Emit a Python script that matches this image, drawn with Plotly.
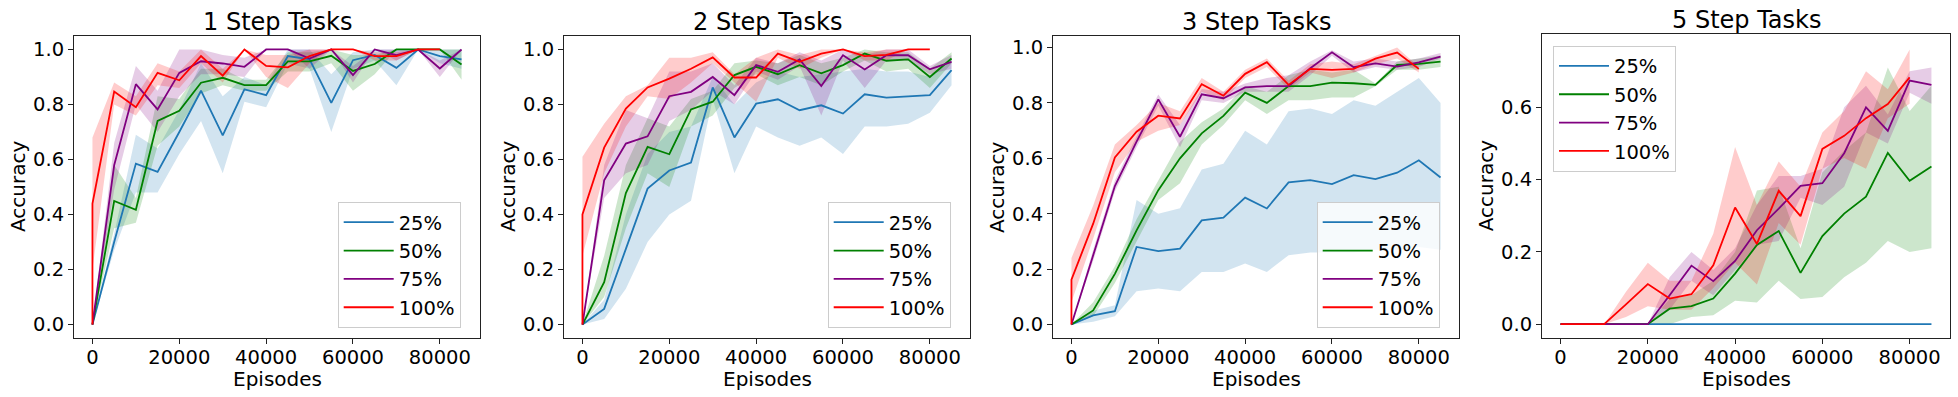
import plotly.graph_objects as go

# ---------------- data ----------------
X = [0, 5000, 10000, 15000, 20000, 25000, 30000, 35000, 40000, 45000,
     50000, 55000, 60000, 65000, 70000, 75000, 80000, 85000]
X_RED = [0, 0, 5000, 10000, 15000, 20000, 25000, 30000, 35000, 40000,
         45000, 50000, 55000, 60000, 65000, 70000, 75000, 80000]

TITLES = ["1 Step Tasks", "2 Step Tasks", "3 Step Tasks", "5 Step Tasks"]
SERIES = ["25%", "50%", "75%", "100%"]
COLORS = ["#1f77b4", "#008000", "#800080", "#ff0000"]
YTICKS_FULL = [0.0, 0.2, 0.4, 0.6, 0.8, 1.0]
YTICKS_5 = [0.0, 0.2, 0.4, 0.6]
XTICKS = [0, 20000, 40000, 60000, 80000]
XLABEL = "Episodes"
YLABEL = "Accuracy"

# ---- 1 step ----
p1_25 = [0, 0.30, 0.585, 0.555, 0.70, 0.85, 0.688, 0.855, 0.834, 0.976, 0.964, 0.806, 0.961, 0.98, 0.933, 1.0, 0.976, 0.964]
p1_25_lo = [0, 0.27, 0.48, 0.48, 0.62, 0.74, 0.55, 0.81, 0.79, 0.95, 0.93, 0.70, 0.93, 0.96, 0.87, 1.0, 0.95, 0.93]
p1_25_hi = [0, 0.33, 0.69, 0.64, 0.78, 0.95, 0.83, 0.90, 0.87, 1.0, 1.0, 0.91, 0.99, 1.0, 1.0, 1.0, 1.0, 1.0]
p1_50 = [0, 0.449, 0.417, 0.74, 0.777, 0.879, 0.897, 0.870, 0.870, 0.957, 0.957, 0.977, 0.922, 0.947, 1.0, 1.0, 1.0, 0.945]
p1_50_lo = [0, 0.35, 0.37, 0.65, 0.72, 0.84, 0.87, 0.85, 0.85, 0.92, 0.92, 0.95, 0.85, 0.91, 1.0, 1.0, 1.0, 0.89]
p1_50_hi = [0, 0.58, 0.46, 0.83, 0.82, 0.93, 0.93, 0.89, 0.89, 0.99, 0.99, 1.0, 0.98, 0.98, 1.0, 1.0, 1.0, 1.0]
p1_75 = [0, 0.579, 0.874, 0.782, 0.915, 0.957, 0.949, 0.937, 1.0, 1.0, 0.967, 1.0, 0.907, 1.0, 0.979, 1.0, 0.931, 1.0]
p1_75_lo = [0, 0.49, 0.80, 0.70, 0.83, 0.91, 0.91, 0.90, 1.0, 1.0, 0.93, 1.0, 0.88, 1.0, 0.96, 1.0, 0.90, 1.0]
p1_75_hi = [0, 0.66, 0.94, 0.85, 1.0, 1.0, 0.98, 0.97, 1.0, 1.0, 1.0, 1.0, 0.94, 1.0, 1.0, 1.0, 0.96, 1.0]
p1_100 = [0, 0.44, 0.847, 0.79, 0.915, 0.888, 0.976, 0.905, 1.0, 0.94, 0.935, 0.976, 1.0, 1.0, 0.976, 0.976, 1.0, 1.0]
p1_100_lo = [0, 0.20, 0.80, 0.76, 0.87, 0.86, 0.95, 0.88, 1.0, 0.90, 0.86, 0.95, 1.0, 1.0, 0.96, 0.96, 1.0, 1.0]
p1_100_hi = [0, 0.68, 0.88, 0.83, 0.95, 0.92, 1.0, 0.93, 1.0, 0.98, 0.98, 1.0, 1.0, 1.0, 0.99, 0.99, 1.0, 1.0]

# ---- 2 step ----
p2_25 = [0, 0.057, 0.275, 0.494, 0.56, 0.589, 0.862, 0.68, 0.803, 0.819, 0.779, 0.797, 0.767, 0.837, 0.825, 0.83, 0.834, 0.925]
p2_25_lo = [0, 0.02, 0.13, 0.30, 0.40, 0.45, 0.82, 0.55, 0.72, 0.68, 0.65, 0.68, 0.62, 0.72, 0.72, 0.73, 0.77, 0.87]
p2_25_hi = [0, 0.09, 0.40, 0.62, 0.70, 0.72, 0.90, 0.80, 0.88, 0.92, 0.90, 0.91, 0.92, 0.93, 0.92, 0.92, 0.90, 0.97]
p2_50 = [0, 0.154, 0.478, 0.646, 0.619, 0.782, 0.81, 0.907, 0.937, 0.91, 0.943, 0.913, 0.943, 0.985, 0.959, 0.964, 0.90, 0.967]
p2_50_lo = [0, 0.10, 0.35, 0.55, 0.50, 0.72, 0.76, 0.86, 0.91, 0.87, 0.90, 0.87, 0.92, 0.96, 0.92, 0.93, 0.86, 0.95]
p2_50_hi = [0, 0.25, 0.58, 0.75, 0.72, 0.82, 0.85, 0.95, 0.96, 0.95, 0.98, 0.95, 0.97, 1.0, 0.99, 0.99, 0.93, 0.99]
p2_75 = [0, 0.524, 0.658, 0.684, 0.83, 0.846, 0.90, 0.834, 0.943, 0.919, 0.964, 0.867, 0.979, 0.927, 0.979, 0.979, 0.928, 0.955]
p2_75_lo = [0, 0.46, 0.55, 0.58, 0.74, 0.78, 0.85, 0.80, 0.92, 0.89, 0.94, 0.76, 0.96, 0.86, 0.96, 0.96, 0.91, 0.93]
p2_75_hi = [0, 0.58, 0.78, 0.75, 0.92, 0.92, 0.95, 0.87, 0.97, 0.95, 0.99, 0.96, 1.0, 0.98, 1.0, 1.0, 0.94, 0.98]
p2_100 = [0, 0.40, 0.643, 0.785, 0.862, 0.894, 0.93, 0.971, 0.898, 0.898, 0.985, 0.955, 0.985, 1.0, 0.976, 0.98, 1.0, 1.0]
p2_100_lo = [0, 0.25, 0.55, 0.72, 0.83, 0.82, 0.88, 0.95, 0.88, 0.81, 0.97, 0.93, 0.97, 1.0, 0.96, 0.96, 1.0, 1.0]
p2_100_hi = [0, 0.61, 0.73, 0.83, 0.87, 0.97, 0.97, 0.99, 0.91, 0.97, 1.0, 0.98, 1.0, 1.0, 0.99, 1.0, 1.0, 1.0]

# ---- 3 step ----
p3_25 = [0, 0.033, 0.048, 0.28, 0.265, 0.274, 0.376, 0.386, 0.458, 0.419, 0.513, 0.521, 0.507, 0.539, 0.525, 0.548, 0.593, 0.531]
p3_25_lo = [0, 0.01, 0.03, 0.12, 0.13, 0.12, 0.19, 0.19, 0.22, 0.19, 0.25, 0.26, 0.26, 0.26, 0.27, 0.27, 0.28, 0.27]
p3_25_hi = [0, 0.05, 0.07, 0.45, 0.40, 0.42, 0.56, 0.58, 0.70, 0.65, 0.77, 0.78, 0.76, 0.81, 0.79, 0.84, 0.89, 0.80]
p3_50 = [0, 0.051, 0.183, 0.34, 0.485, 0.60, 0.69, 0.753, 0.837, 0.80, 0.861, 0.861, 0.873, 0.871, 0.865, 0.937, 0.941, 0.949]
p3_50_lo = [0, 0.03, 0.15, 0.30, 0.45, 0.51, 0.65, 0.72, 0.81, 0.76, 0.81, 0.81, 0.82, 0.82, 0.86, 0.92, 0.92, 0.93]
p3_50_hi = [0, 0.08, 0.21, 0.38, 0.52, 0.66, 0.73, 0.78, 0.86, 0.84, 0.90, 0.92, 0.91, 0.92, 0.87, 0.95, 0.96, 0.97]
p3_75 = [0, 0.25, 0.50, 0.66, 0.813, 0.678, 0.831, 0.817, 0.856, 0.861, 0.861, 0.925, 0.983, 0.929, 0.943, 0.931, 0.946, 0.967]
p3_75_lo = [0, 0.23, 0.48, 0.64, 0.79, 0.64, 0.81, 0.80, 0.84, 0.84, 0.84, 0.90, 0.97, 0.91, 0.93, 0.92, 0.93, 0.96]
p3_75_hi = [0, 0.27, 0.52, 0.68, 0.83, 0.72, 0.85, 0.84, 0.87, 0.89, 0.90, 0.95, 0.99, 0.95, 0.96, 0.95, 0.96, 0.98]
p3_100 = [0, 0.162, 0.364, 0.603, 0.696, 0.754, 0.744, 0.868, 0.826, 0.905, 0.947, 0.865, 0.923, 0.919, 0.923, 0.96, 0.982, 0.923]
p3_100_lo = [0, 0.08, 0.31, 0.55, 0.66, 0.70, 0.72, 0.84, 0.81, 0.89, 0.93, 0.85, 0.91, 0.89, 0.91, 0.94, 0.96, 0.91]
p3_100_hi = [0, 0.24, 0.43, 0.65, 0.72, 0.80, 0.77, 0.89, 0.84, 0.92, 0.96, 0.88, 0.94, 0.95, 0.94, 0.97, 1.0, 0.93]

# ---- 5 step ----
p4_25 = [0, 0, 0, 0, 0, 0, 0, 0, 0, 0, 0, 0, 0, 0, 0, 0, 0, 0]
p4_25_lo = [0, 0, 0, 0, 0, 0, 0, 0, 0, 0, 0, 0, 0, 0, 0, 0, 0, 0]
p4_25_hi = [0, 0, 0, 0, 0, 0, 0, 0, 0, 0, 0, 0, 0, 0, 0, 0, 0, 0]
p4_50 = [0, 0, 0, 0, 0, 0.043, 0.05, 0.071, 0.14, 0.219, 0.258, 0.142, 0.244, 0.306, 0.353, 0.474, 0.397, 0.436]
p4_50_lo = [0, 0, 0, 0, 0, 0.0, 0.02, 0.025, 0.065, 0.06, 0.12, 0.07, 0.075, 0.13, 0.17, 0.23, 0.20, 0.21]
p4_50_hi = [0, 0, 0, 0, 0, 0.07, 0.08, 0.12, 0.20, 0.37, 0.38, 0.21, 0.42, 0.48, 0.53, 0.71, 0.59, 0.66]
p4_75 = [0, 0, 0, 0, 0, 0.08, 0.162, 0.119, 0.175, 0.26, 0.32, 0.383, 0.39, 0.473, 0.60, 0.535, 0.674, 0.662]
p4_75_lo = [0, 0, 0, 0, 0, 0.04, 0.12, 0.08, 0.15, 0.22, 0.23, 0.35, 0.33, 0.38, 0.53, 0.50, 0.64, 0.61]
p4_75_hi = [0, 0, 0, 0, 0, 0.13, 0.20, 0.15, 0.21, 0.33, 0.41, 0.41, 0.43, 0.60, 0.66, 0.58, 0.70, 0.71]
p4_100 = [0, 0, 0, 0, 0.055, 0.111, 0.071, 0.083, 0.163, 0.323, 0.222, 0.369, 0.299, 0.485, 0.521, 0.57, 0.609, 0.683]
p4_100_lo = [0, 0, 0, 0, 0.02, 0.05, 0.04, 0.04, 0.10, 0.17, 0.11, 0.28, 0.22, 0.43, 0.46, 0.43, 0.57, 0.61]
p4_100_hi = [0, 0, 0, 0, 0.09, 0.17, 0.12, 0.12, 0.25, 0.49, 0.33, 0.45, 0.38, 0.53, 0.59, 0.70, 0.65, 0.76]

PANELS = [
    [(p1_25, p1_25_lo, p1_25_hi), (p1_50, p1_50_lo, p1_50_hi), (p1_75, p1_75_lo, p1_75_hi), (p1_100, p1_100_lo, p1_100_hi)],
    [(p2_25, p2_25_lo, p2_25_hi), (p2_50, p2_50_lo, p2_50_hi), (p2_75, p2_75_lo, p2_75_hi), (p2_100, p2_100_lo, p2_100_hi)],
    [(p3_25, p3_25_lo, p3_25_hi), (p3_50, p3_50_lo, p3_50_hi), (p3_75, p3_75_lo, p3_75_hi), (p3_100, p3_100_lo, p3_100_hi)],
    [(p4_25, p4_25_lo, p4_25_hi), (p4_50, p4_50_lo, p4_50_hi), (p4_75, p4_75_lo, p4_75_hi), (p4_100, p4_100_lo, p4_100_hi)],
]

# ---------------- layout geometry (pixels) ----------------
W, H = 1958, 397
BOX_X = [(74, 480), (564, 970), (1053, 1459), (1542, 1950)]
BOX_Y = [(35.7, 338.3), (35.7, 338.3), (35.7, 338.3), (34.3, 338.3)]
YRANGES = [[-0.05, 1.05], [-0.05, 1.05], [-0.0497, 1.0427], [-0.039, 0.802]]
LEGEND_POS = [(337.7, 202), (827.7, 202), (1316.7, 202), (1553, 45.7)]

FONT = "DejaVu Sans"


def rgba(hexcol, a):
    h = hexcol.lstrip("#")
    r, g, b = int(h[0:2], 16), int(h[2:4], 16), int(h[4:6], 16)
    return f"rgba({r},{g},{b},{a})"


fig = go.Figure()

for p, series in enumerate(PANELS):
    ax = "" if p == 0 else str(p + 1)
    xref, yref = "x" + ax, "y" + ax
    leg = "legend" if p == 0 else "legend" + str(p + 1)
    for s, (vals, lo, hi) in enumerate(series):
        xs = X_RED if s == 3 else X
        fig.add_trace(go.Scatter(
            x=list(xs) + list(xs)[::-1], y=list(hi) + list(lo)[::-1],
            fill="toself", fillcolor=rgba(COLORS[s], 0.2),
            line=dict(width=0), mode="lines", hoverinfo="skip",
            showlegend=False, xaxis=xref, yaxis=yref, legend=leg))
    for s, (vals, lo, hi) in enumerate(series):
        xs = X_RED if s == 3 else X
        fig.add_trace(go.Scatter(
            x=xs, y=vals, mode="lines", name=SERIES[s],
            line=dict(color=COLORS[s], width=1.8),
            xaxis=xref, yaxis=yref, legend=leg, showlegend=True))

layout = dict(
    width=W, height=H, margin=dict(l=0, r=0, t=0, b=0, autoexpand=False),
    paper_bgcolor="white", plot_bgcolor="white",
    font=dict(family=FONT, color="black", size=19.5),
    annotations=[],
)

for p in range(4):
    ax = "" if p == 0 else str(p + 1)
    x0, x1 = BOX_X[p]
    y0, y1 = BOX_Y[p]
    common = dict(showline=True, mirror=True, linecolor="#222222", linewidth=1,
                  ticks="outside", ticklen=5, tickwidth=1, tickcolor="#222222",
                  showgrid=False, zeroline=False, automargin=False,
                  tickfont=dict(size=19.5, family=FONT, color="black"))
    layout["xaxis" + ax] = dict(
        domain=[x0 / W, x1 / W], anchor="y" + ax, range=[-4250, 89250],
        tickvals=XTICKS, ticktext=[str(v) for v in XTICKS],
        ticklabelstandoff=-4, **common)
    yt = YTICKS_5 if p == 3 else YTICKS_FULL
    layout["yaxis" + ax] = dict(
        domain=[1 - y1 / H, 1 - y0 / H], anchor="x" + ax, range=YRANGES[p],
        tickvals=yt, ticktext=[f"{v:.1f}" for v in yt], **common)
    layout["annotations"].append(dict(
        text=TITLES[p], x=(x0 + x1) / 2 / W, y=1 - y0 / H, xref="paper", yref="paper",
        xanchor="center", yanchor="bottom", yshift=-2, showarrow=False,
        font=dict(size=24, family=FONT, color="black")))
    layout["annotations"].append(dict(
        text=XLABEL, x=(x0 + x1) / 2 / W, y=1 - 379 / H, xref="paper", yref="paper",
        xanchor="center", yanchor="middle", showarrow=False,
        font=dict(size=20, family=FONT, color="black")))
    layout["annotations"].append(dict(
        text=YLABEL, x=(x0 - 56) / W, y=1 - (y0 + y1) / 2 / H, xref="paper", yref="paper",
        xanchor="center", yanchor="middle", showarrow=False, textangle=-90,
        font=dict(size=20, family=FONT, color="black")))
    lx, ly = LEGEND_POS[p]
    layout["legend" if p == 0 else "legend" + str(p + 1)] = dict(
        x=lx / W, y=1 - ly / H, xanchor="left", yanchor="top",
        bgcolor="rgba(255,255,255,0.8)", bordercolor="#cccccc", borderwidth=1,
        font=dict(size=19.5, family=FONT, color="black"),
        itemwidth=50, tracegroupgap=0)

fig.update_layout(**layout)
fig.write_html(
    "out.html",
    config={"displayModeBar": False},
    post_script="document.body.style.margin='0';document.body.style.overflow='hidden';",
)
